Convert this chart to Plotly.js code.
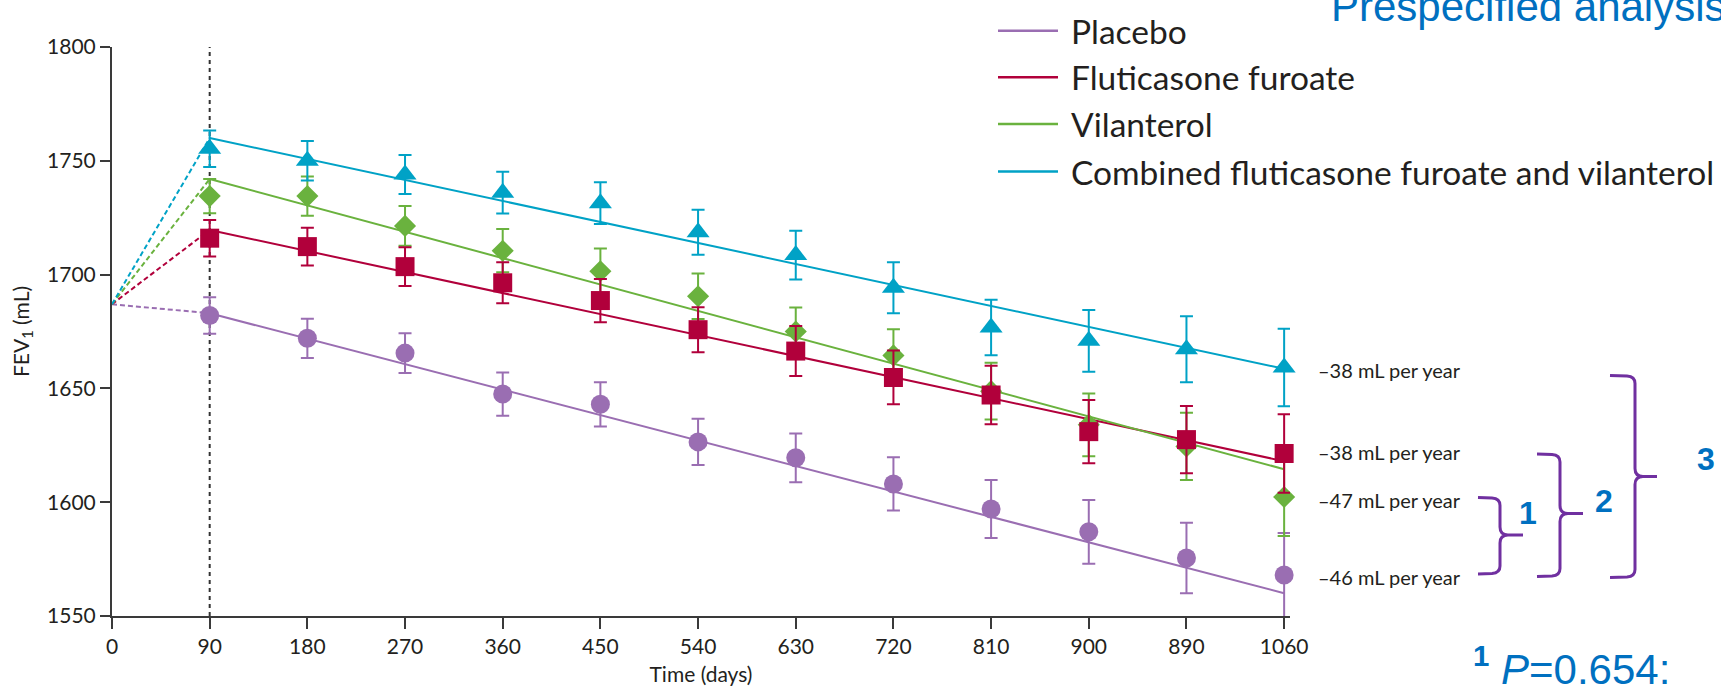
<!DOCTYPE html>
<html>
<head>
<meta charset="utf-8">
<script src="https://cdn.plot.ly/plotly-3.0.1.min.js"></script>
<style>
  html, body { margin: 0; padding: 0; background: #ffffff; }
  #chart { width: 1721px; height: 686px; }
</style>
</head>
<body>
<div id="chart"></div>
<script>
// Visit axis: tick labels in days (as printed on the axis)
const visitLabels = ["0", "90", "180", "270", "360", "450", "540", "630", "720", "810", "900", "890", "1060"];

// Treatment groups
const seriesNames = ["Placebo", "Fluticasone furoate", "Vilanterol", "Combined fluticasone furoate and vilanterol"];
const seriesColors = ["#9a6eb2", "#b1003b", "#6ab23e", "#00a2c6"];
const seriesSymbols = ["circle", "square", "diamond", "triangle-up"];
const seriesSizes = [19, 19, 17, 20];

// Mean FEV1 (mL) at visits 90 ... 1060
const placeboMean = [1682, 1672, 1665.5, 1647.5, 1643, 1626.5, 1619.5, 1608, 1597, 1587, 1575.5, 1568];
const placeboErr  = [8, 8.6, 8.7, 9.5, 9.7, 10.2, 10.7, 11.7, 12.7, 14, 15.5, 18.5];

const flutMean = [1716, 1712.3, 1703.5, 1696.4, 1688.6, 1675.8, 1666.4, 1654.8, 1647.1, 1631, 1627.5, 1621.4];
const flutErr  = [8, 8.3, 8.5, 9, 9.5, 9.9, 11, 11.8, 12.9, 13.9, 14.8, 17.2];

const vilMean = [1734.5, 1734.5, 1721.4, 1710.5, 1701.5, 1690.5, 1675, 1664.5, 1648.8, 1634, 1624.5, 1602.3];
const vilErr  = [7.5, 8.6, 8.7, 9.5, 10, 10, 10.5, 11.5, 12.5, 13.8, 14.8, 17.2];

const combMean = [1755.3, 1750, 1744, 1736, 1731.4, 1718.6, 1708.6, 1694.2, 1676.8, 1670.9, 1667.2, 1659.2];
const combErr  = [8, 8.7, 8.6, 9.2, 9.2, 9.9, 10.7, 11.2, 12.2, 13.6, 14.5, 17];

// Fitted slope lines: value at first and last visit, plus common baseline at day 0
const baselineFEV1 = 1687;
const fitStart = [1683, 1719.6, 1742, 1760];
const fitEnd   = [1560, 1618, 1614.5, 1658.6];

// Annual rate of decline for each group (mL per year)
const slopePerYear = [-46, -38, -47, -38];

const means = [placeboMean, flutMean, vilMean, combMean];
const errs = [placeboErr, flutErr, vilErr, combErr];

// ---- layout geometry (px) ----
const FIG_W = 1721, FIG_H = 686;
const M = { l: 112, r: 431, t: 47, b: 70 };
const PW = FIG_W - M.l - M.r, PH = FIG_H - M.t - M.b;
const px2x = px => (px - M.l) / PW;
const px2y = py => 1 - (py - M.t) / PH;

const visitPos = visitLabels.map((_, i) => i);
const dataPos = visitPos.slice(1);
const firstPos = dataPos[0], lastPos = dataPos[dataPos.length - 1];

const textFont = "Lato, 'Open Sans', sans-serif";
const inkColor = "#231f20";
const blue = "#0070c0";
const braceColor = "#7030a0";

const traces = [];

// fitted lines and dashed extension to baseline
for (let s = 0; s < 4; s++) {
  traces.push({
    x: [visitPos[0], firstPos], y: [baselineFEV1, fitStart[s]],
    mode: "lines", line: { color: seriesColors[s], width: 2, dash: "5px,3px" },
    hoverinfo: "skip", showlegend: false
  });
  traces.push({
    x: [firstPos, lastPos], y: [fitStart[s], fitEnd[s]],
    mode: "lines", line: { color: seriesColors[s], width: 2 },
    name: seriesNames[s], showlegend: false
  });
}

// observed means with error bars (drawing order keeps squares above diamonds)
const markerOrder = [0, 2, 1, 3];
markerOrder.forEach(s => {
  traces.push({
    x: dataPos, y: means[s],
    mode: "markers", name: seriesNames[s], showlegend: false,
    cliponaxis: false,
    marker: { symbol: seriesSymbols[s], size: seriesSizes[s], color: seriesColors[s], line: { width: 0 } },
    error_y: { type: "data", array: errs[s], visible: true, color: seriesColors[s], thickness: 2, width: 6.5 }
  });
});

// ---- shapes ----
const shapes = [];

// vertical reference line at day 90
shapes.push({
  type: "line", xref: "x", yref: "paper", x0: firstPos, x1: firstPos, y0: 0, y1: 1,
  line: { color: "#333333", width: 2, dash: "4px,4px" }, layer: "below"
});

// legend line samples
const legendRowsY = [30.7, 77.3, 124, 171.5];
for (let s = 0; s < 4; s++) {
  shapes.push({
    type: "line", xref: "paper", yref: "paper",
    x0: px2x(998), x1: px2x(1058), y0: px2y(legendRowsY[s]), y1: px2y(legendRowsY[s]),
    line: { color: seriesColors[s], width: 2.5 }
  });
}

// curly braces grouping the slope comparisons
function bracePath(x0, xv, xt, yt, ym, yb, r) {
  const P = (x, y) => px2x(x).toFixed(5) + "," + px2y(y).toFixed(5);
  return "M" + P(x0, yt) + " L" + P(xv - r, yt + 0.5) + " Q" + P(xv, yt + 1) + " " + P(xv, yt + r) +
         " L" + P(xv, ym - r) + " Q" + P(xv, ym) + " " + P(xv + r, ym) + " L" + P(xt, ym) +
         " M" + P(xv + r, ym) + " Q" + P(xv, ym) + " " + P(xv, ym + r) +
         " L" + P(xv, yb - r) + " Q" + P(xv, yb - 1) + " " + P(xv - r, yb - 0.5) + " L" + P(x0, yb);
}
const braces = [
  { x0: 1478, xv: 1500, xt: 1523, yt: 497.5, ym: 535, yb: 574, label: "1", lx: 1528, ly: 513 },
  { x0: 1537, xv: 1560, xt: 1583, yt: 454, ym: 513.5, yb: 576.5, label: "2", lx: 1604, ly: 500.5 },
  { x0: 1610, xv: 1635, xt: 1657, yt: 375.5, ym: 476.5, yb: 577.5, label: "3", lx: 1706, ly: 458.5 }
];
braces.forEach(b => {
  shapes.push({
    type: "path", xref: "paper", yref: "paper",
    path: bracePath(b.x0, b.xv, b.xt, b.yt, b.ym, b.yb, 8),
    line: { color: braceColor, width: 3 }
  });
});

// ---- annotations ----
const annotations = [];

// legend labels
for (let s = 0; s < 4; s++) {
  annotations.push({
    xref: "paper", yref: "paper", x: px2x(1069), y: px2y(legendRowsY[s]),
    xanchor: "left", yanchor: "middle", showarrow: false,
    text: seriesNames[s], font: { family: textFont, size: 33.5, color: inkColor }
  });
}

// slope labels, placed beside each line's end
const slopeLabelY = [577, 452, 500, 370];
for (let s = 0; s < 4; s++) {
  annotations.push({
    xref: "paper", yref: "paper", x: px2x(1316), y: px2y(slopeLabelY[s]),
    xanchor: "left", yanchor: "middle", showarrow: false,
    text: "\u2013" + Math.abs(slopePerYear[s]) + " mL per year",
    font: { family: textFont, size: 20, color: inkColor }
  });
}

// brace numbers
braces.forEach(b => {
  annotations.push({
    xref: "paper", yref: "paper", x: px2x(b.lx), y: px2y(b.ly),
    xanchor: "center", yanchor: "middle", showarrow: false,
    text: "<b>" + b.label + "</b>",
    font: { family: "'Liberation Sans', Arial, sans-serif", size: 32, color: blue }
  });
});

// heading and footnote
annotations.push({
  xref: "paper", yref: "paper", x: px2x(1329), y: px2y(32),
  xanchor: "left", yanchor: "bottom", showarrow: false,
  text: "Prespecified analysis",
  font: { family: "'Liberation Sans', Arial, sans-serif", size: 42, color: blue }
});
annotations.push({
  xref: "paper", yref: "paper", x: px2x(1471), y: px2y(695),
  xanchor: "left", yanchor: "bottom", showarrow: false,
  text: "<sup><b>1</b></sup> <i>P</i>=0.654:",
  font: { family: "'Liberation Sans', Arial, sans-serif", size: 42, color: blue }
});

const layout = {
  width: FIG_W, height: FIG_H,
  margin: M,
  paper_bgcolor: "#ffffff", plot_bgcolor: "#ffffff",
  showlegend: false,
  font: { family: textFont, color: inkColor },
  xaxis: {
    range: [0, 12.06], fixedrange: true,
    tickmode: "array", tickvals: visitPos, ticktext: visitLabels,
    ticks: "outside", ticklen: 11, tickwidth: 2, tickcolor: "#3a3a3a",
    showline: true, linecolor: "#3a3a3a", linewidth: 2,
    showgrid: false, zeroline: false,
    tickfont: { family: textFont, size: 21, color: inkColor },
    title: { text: "Time (days)", font: { family: textFont, size: 21, color: inkColor }, standoff: 14 }
  },
  yaxis: {
    range: [1550, 1800], fixedrange: true,
    tickmode: "array", tickvals: [1550, 1600, 1650, 1700, 1750, 1800],
    ticks: "outside", ticklen: 10, tickwidth: 2, tickcolor: "#3a3a3a",
    showline: true, linecolor: "#3a3a3a", linewidth: 2,
    showgrid: false, zeroline: false,
    tickfont: { family: textFont, size: 21, color: inkColor },
    title: { text: "FEV<sub>1</sub> (mL)", font: { family: textFont, size: 21, color: inkColor }, standoff: 12 }
  },
  shapes: shapes,
  annotations: annotations
};

Plotly.newPlot("chart", traces, layout, { displayModeBar: false, staticPlot: true });
</script>
</body>
</html>
